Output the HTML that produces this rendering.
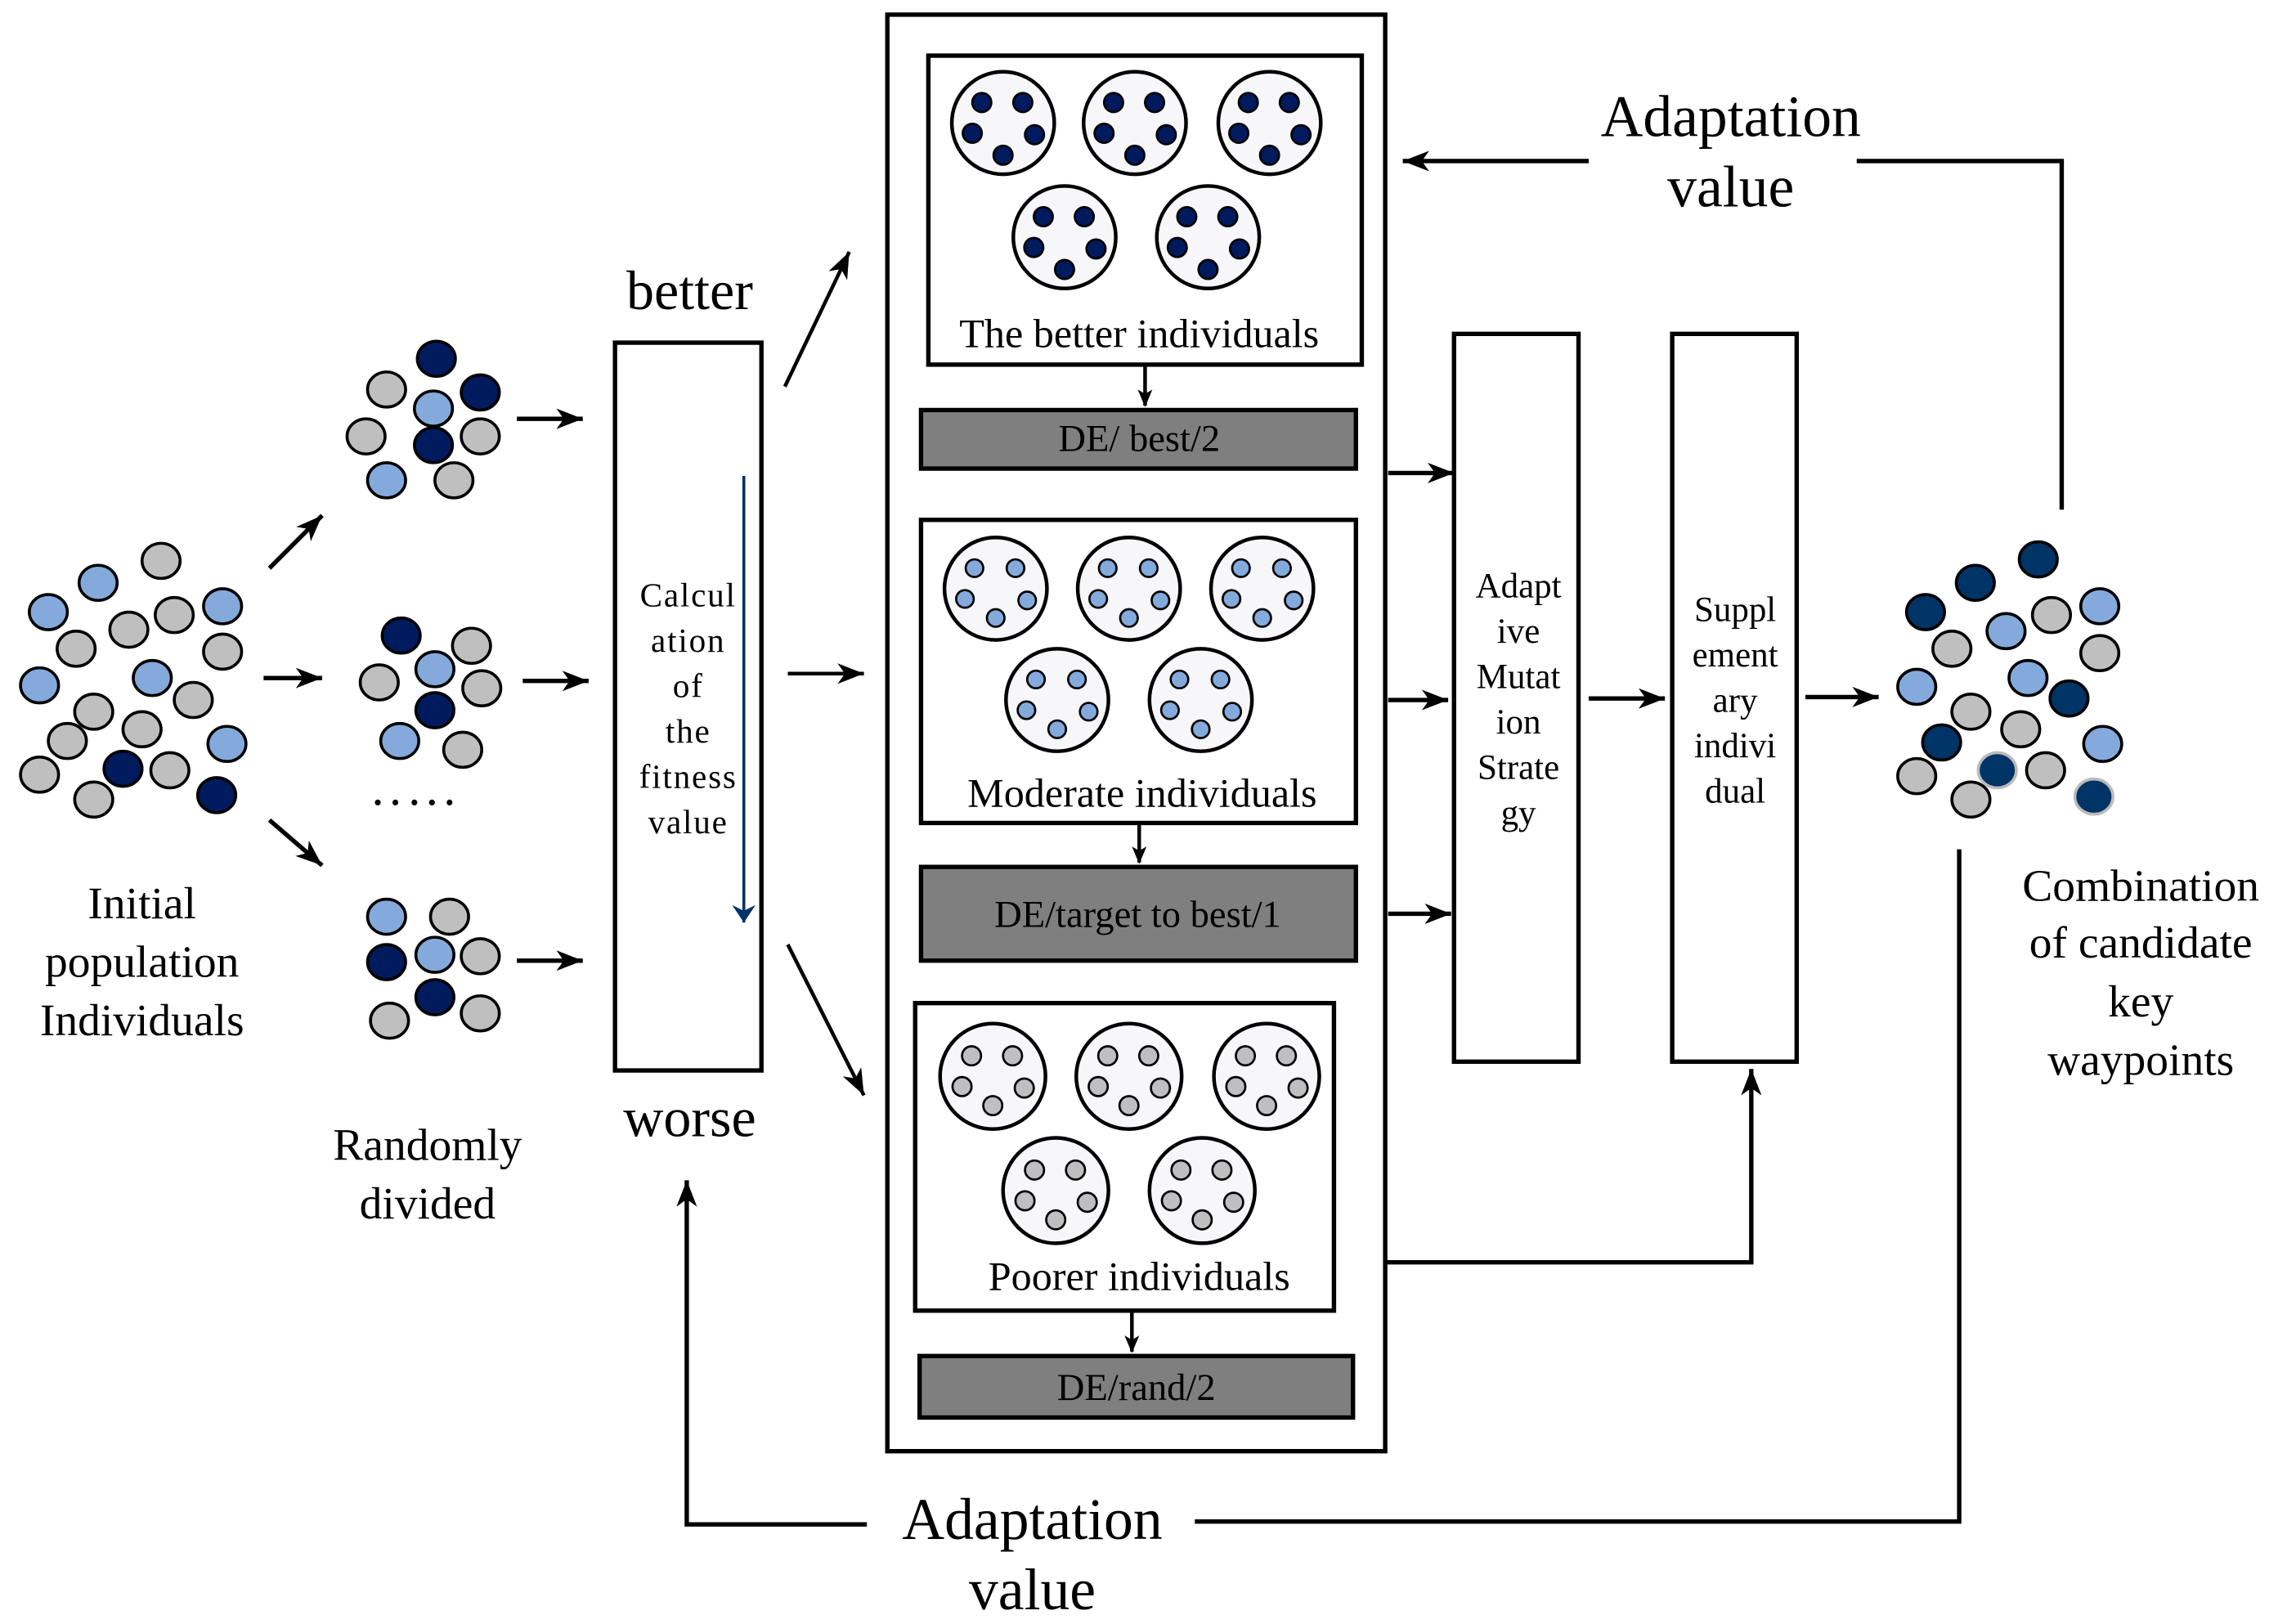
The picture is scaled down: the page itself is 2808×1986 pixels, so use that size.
<!DOCTYPE html>
<html><head><meta charset="utf-8"><style>
html,body{margin:0;padding:0;background:#fff;}
svg{display:block;}
text{font-family:"Liberation Serif","Times New Roman",Times,serif;fill:#000;}
</style></head><body>
<svg width="2808" height="1986" viewBox="0 0 1568 1109" xmlns="http://www.w3.org/2000/svg" font-family="Liberation Serif, Times New Roman, serif">
<defs>
<marker id="ah" markerWidth="12" markerHeight="10" refX="11" refY="5" orient="auto" markerUnits="userSpaceOnUse">
<path d="M0,0 L12,5 L0,10 L3,5 z" fill="#000"/></marker>
<marker id="ah2" markerWidth="20" markerHeight="14" refX="18" refY="7" orient="auto" markerUnits="userSpaceOnUse">
<path d="M0,0 L18,7 L0,14 L5,7 z" fill="#000"/></marker>
<marker id="ahb" markerWidth="14" markerHeight="18" refX="12" refY="8" orient="auto" markerUnits="userSpaceOnUse">
<path d="M0,0 L12,8 L0,16 L4,8 z" fill="#003366"/></marker>
</defs>
<g stroke="#000" stroke-width="2">
<ellipse cx="110" cy="383" rx="13" ry="12" fill="#bfbfbf"/>
<ellipse cx="67" cy="398" rx="13" ry="12" fill="#84aadc"/>
<ellipse cx="33" cy="418" rx="13" ry="12" fill="#84aadc"/>
<ellipse cx="152" cy="414" rx="13" ry="12" fill="#84aadc"/>
<ellipse cx="119" cy="420" rx="13" ry="12" fill="#bfbfbf"/>
<ellipse cx="88" cy="430" rx="13" ry="12" fill="#bfbfbf"/>
<ellipse cx="52" cy="443" rx="13" ry="12" fill="#bfbfbf"/>
<ellipse cx="152" cy="445" rx="13" ry="12" fill="#bfbfbf"/>
<ellipse cx="27" cy="468" rx="13" ry="12" fill="#84aadc"/>
<ellipse cx="104" cy="463" rx="13" ry="12" fill="#84aadc"/>
<ellipse cx="132" cy="478" rx="13" ry="12" fill="#bfbfbf"/>
<ellipse cx="64" cy="486" rx="13" ry="12" fill="#bfbfbf"/>
<ellipse cx="97" cy="498" rx="13" ry="12" fill="#bfbfbf"/>
<ellipse cx="46" cy="506" rx="13" ry="12" fill="#bfbfbf"/>
<ellipse cx="155" cy="508" rx="13" ry="12" fill="#84aadc"/>
<ellipse cx="84" cy="525" rx="13" ry="12" fill="#001a5e"/>
<ellipse cx="116" cy="526" rx="13" ry="12" fill="#bfbfbf"/>
<ellipse cx="27" cy="529" rx="13" ry="12" fill="#bfbfbf"/>
<ellipse cx="64" cy="546" rx="13" ry="12" fill="#bfbfbf"/>
<ellipse cx="148" cy="543" rx="13" ry="12" fill="#001a5e"/>
<ellipse cx="298" cy="245" rx="13" ry="12" fill="#001a5e"/>
<ellipse cx="264" cy="266" rx="13" ry="12" fill="#bfbfbf"/>
<ellipse cx="328" cy="268" rx="13" ry="12" fill="#001a5e"/>
<ellipse cx="296" cy="279" rx="13" ry="12" fill="#84aadc"/>
<ellipse cx="250" cy="298" rx="13" ry="12" fill="#bfbfbf"/>
<ellipse cx="296" cy="304" rx="13" ry="12" fill="#001a5e"/>
<ellipse cx="328" cy="298" rx="13" ry="12" fill="#bfbfbf"/>
<ellipse cx="264" cy="328" rx="13" ry="12" fill="#84aadc"/>
<ellipse cx="310" cy="328" rx="13" ry="12" fill="#bfbfbf"/>
<ellipse cx="274" cy="434" rx="13" ry="12" fill="#001a5e"/>
<ellipse cx="322" cy="441" rx="13" ry="12" fill="#bfbfbf"/>
<ellipse cx="259" cy="466" rx="13" ry="12" fill="#bfbfbf"/>
<ellipse cx="297" cy="457" rx="13" ry="12" fill="#84aadc"/>
<ellipse cx="329" cy="470" rx="13" ry="12" fill="#bfbfbf"/>
<ellipse cx="297" cy="485" rx="13" ry="12" fill="#001a5e"/>
<ellipse cx="273" cy="506" rx="13" ry="12" fill="#84aadc"/>
<ellipse cx="316" cy="512" rx="13" ry="12" fill="#bfbfbf"/>
<ellipse cx="264" cy="626" rx="13" ry="12" fill="#84aadc"/>
<ellipse cx="307" cy="626" rx="13" ry="12" fill="#bfbfbf"/>
<ellipse cx="264" cy="657" rx="13" ry="12" fill="#001a5e"/>
<ellipse cx="297" cy="652" rx="13" ry="12" fill="#84aadc"/>
<ellipse cx="328" cy="653" rx="13" ry="12" fill="#bfbfbf"/>
<ellipse cx="297" cy="681" rx="13" ry="12" fill="#001a5e"/>
<ellipse cx="266" cy="697" rx="13" ry="12" fill="#bfbfbf"/>
<ellipse cx="328" cy="692" rx="13" ry="12" fill="#bfbfbf"/>
<ellipse cx="1349" cy="398" rx="13" ry="12" fill="#003366"/>
<ellipse cx="1392" cy="382" rx="13" ry="12" fill="#003366"/>
<ellipse cx="1315" cy="418" rx="13" ry="12" fill="#003366"/>
<ellipse cx="1370" cy="431" rx="13" ry="12" fill="#84aadc"/>
<ellipse cx="1401" cy="420" rx="13" ry="12" fill="#bfbfbf"/>
<ellipse cx="1434" cy="414" rx="13" ry="12" fill="#84aadc"/>
<ellipse cx="1333" cy="443" rx="13" ry="12" fill="#bfbfbf"/>
<ellipse cx="1434" cy="446" rx="13" ry="12" fill="#bfbfbf"/>
<ellipse cx="1385" cy="463" rx="13" ry="12" fill="#84aadc"/>
<ellipse cx="1309" cy="469" rx="13" ry="12" fill="#84aadc"/>
<ellipse cx="1413" cy="477" rx="13" ry="12" fill="#003366"/>
<ellipse cx="1346" cy="486" rx="13" ry="12" fill="#bfbfbf"/>
<ellipse cx="1380" cy="498" rx="13" ry="12" fill="#bfbfbf"/>
<ellipse cx="1326" cy="507" rx="13" ry="12" fill="#003366"/>
<ellipse cx="1436" cy="508" rx="13" ry="12" fill="#84aadc"/>
<ellipse cx="1364" cy="526" rx="13" ry="12" fill="#003366" stroke="#bbb"/>
<ellipse cx="1397" cy="526" rx="13" ry="12" fill="#bfbfbf"/>
<ellipse cx="1309" cy="530" rx="13" ry="12" fill="#bfbfbf"/>
<ellipse cx="1346" cy="546" rx="13" ry="12" fill="#bfbfbf"/>
<ellipse cx="1430" cy="544" rx="13" ry="12" fill="#003366" stroke="#bbb"/>
</g>
<g fill="#000"><circle cx="258" cy="548" r="2"/><circle cx="270" cy="548" r="2"/><circle cx="283" cy="548" r="2"/><circle cx="295" cy="548" r="2"/><circle cx="307" cy="548" r="2"/></g>

<g stroke="#000" stroke-width="3" fill="none">
<line x1="184" y1="388" x2="220" y2="352" marker-end="url(#ah2)"/>
<line x1="180" y1="463" x2="220" y2="463" marker-end="url(#ah2)"/>
<line x1="184" y1="560" x2="220" y2="591" marker-end="url(#ah2)"/>
<line x1="353" y1="286" x2="398" y2="286" marker-end="url(#ah2)"/>
<line x1="357" y1="465" x2="402" y2="465" marker-end="url(#ah2)"/>
<line x1="353" y1="656" x2="398" y2="656" marker-end="url(#ah2)"/>
</g>
<g stroke="#000" stroke-width="2.5" fill="none">
<line x1="536" y1="264" x2="580" y2="172" marker-end="url(#ah2)"/>
<line x1="538" y1="460" x2="590" y2="460" marker-end="url(#ah2)"/>
<line x1="538" y1="645" x2="590" y2="748" marker-end="url(#ah2)"/>
</g>

<rect x="420" y="234" width="100" height="497" fill="#fff" stroke="#000" stroke-width="3"/>
<line x1="508" y1="325" x2="508" y2="630" stroke="#003366" stroke-width="2" marker-end="url(#ahb)"/>
<g font-size="23" text-anchor="middle" letter-spacing="1">
<text x="470" y="414">Calcul</text><text x="470" y="445">ation</text><text x="470" y="476">of</text><text x="470" y="507">the</text><text x="470" y="538">fitness</text><text x="470" y="569">value</text>
</g>
<text x="471" y="211" font-size="38" text-anchor="middle">better</text>
<text x="471" y="776" font-size="38" text-anchor="middle">worse</text>
<g font-size="31" text-anchor="middle">
<text x="97" y="627">Initial</text><text x="97" y="667">population</text><text x="97" y="707">Individuals</text>
<text x="292" y="792">Randomly</text><text x="292" y="832">divided</text>
<text x="1462" y="615">Combination</text><text x="1462" y="654">of candidate</text><text x="1462" y="694">key</text><text x="1462" y="734">waypoints</text>
</g>

<rect x="606" y="10" width="340" height="981" fill="none" stroke="#000" stroke-width="3"/>
<rect x="634" y="38" width="296" height="211" fill="#fff" stroke="#000" stroke-width="3"/>
<rect x="629" y="280" width="297" height="40" fill="#7f7f7f" stroke="#000" stroke-width="3"/>
<rect x="629" y="355" width="297" height="207" fill="#fff" stroke="#000" stroke-width="3"/>
<rect x="629" y="592" width="297" height="64" fill="#7f7f7f" stroke="#000" stroke-width="3"/>
<rect x="625" y="685" width="286" height="210" fill="#fff" stroke="#000" stroke-width="3"/>
<rect x="628" y="926" width="296" height="42" fill="#7f7f7f" stroke="#000" stroke-width="3"/>

<g font-size="28" text-anchor="middle">
<text x="778" y="237">The better individuals</text>
<text x="780" y="551">Moderate individuals</text>
<text x="778" y="881">Poorer individuals</text>
<text x="778" y="308" font-size="26">DE/ best/2</text>
<text x="777" y="633" font-size="26">DE/target to best/1</text>
<text x="776" y="956" font-size="26">DE/rand/2</text>
</g>
<g stroke="#000" stroke-width="2.5">
<line x1="782" y1="250" x2="782" y2="277" marker-end="url(#ah)"/>
<line x1="778" y1="563" x2="778" y2="589" marker-end="url(#ah)"/>
<line x1="773" y1="896" x2="773" y2="923" marker-end="url(#ah)"/>
</g>

<g fill="#001a5e" stroke="#000" stroke-width="1.5">
<g transform="translate(685,84)"><circle r="35" fill="#f7f7f9" stroke-width="2.5"/><circle cx="-14.5" cy="-14" r="6.5"/><circle cx="13.5" cy="-14" r="6.5"/><circle cx="-21" cy="7" r="6.5"/><circle cx="21.5" cy="8" r="6.5"/><circle cx="0" cy="22" r="6.5"/></g>
<g transform="translate(775,84)"><circle r="35" fill="#f7f7f9" stroke-width="2.5"/><circle cx="-14.5" cy="-14" r="6.5"/><circle cx="13.5" cy="-14" r="6.5"/><circle cx="-21" cy="7" r="6.5"/><circle cx="21.5" cy="8" r="6.5"/><circle cx="0" cy="22" r="6.5"/></g>
<g transform="translate(867,84)"><circle r="35" fill="#f7f7f9" stroke-width="2.5"/><circle cx="-14.5" cy="-14" r="6.5"/><circle cx="13.5" cy="-14" r="6.5"/><circle cx="-21" cy="7" r="6.5"/><circle cx="21.5" cy="8" r="6.5"/><circle cx="0" cy="22" r="6.5"/></g>
<g transform="translate(727,162)"><circle r="35" fill="#f7f7f9" stroke-width="2.5"/><circle cx="-14.5" cy="-14" r="6.5"/><circle cx="13.5" cy="-14" r="6.5"/><circle cx="-21" cy="7" r="6.5"/><circle cx="21.5" cy="8" r="6.5"/><circle cx="0" cy="22" r="6.5"/></g>
<g transform="translate(825,162)"><circle r="35" fill="#f7f7f9" stroke-width="2.5"/><circle cx="-14.5" cy="-14" r="6.5"/><circle cx="13.5" cy="-14" r="6.5"/><circle cx="-21" cy="7" r="6.5"/><circle cx="21.5" cy="8" r="6.5"/><circle cx="0" cy="22" r="6.5"/></g>
</g>
<g fill="#84aadc" stroke="#000" stroke-width="1.5">
<g transform="translate(680,402)"><circle r="35" fill="#f7f7f9" stroke-width="2.5"/><circle cx="-14.5" cy="-14" r="6"/><circle cx="13.5" cy="-14" r="6"/><circle cx="-21" cy="7" r="6"/><circle cx="21.5" cy="8" r="6"/><circle cx="0" cy="20" r="6"/></g>
<g transform="translate(771,402)"><circle r="35" fill="#f7f7f9" stroke-width="2.5"/><circle cx="-14.5" cy="-14" r="6"/><circle cx="13.5" cy="-14" r="6"/><circle cx="-21" cy="7" r="6"/><circle cx="21.5" cy="8" r="6"/><circle cx="0" cy="20" r="6"/></g>
<g transform="translate(862,402)"><circle r="35" fill="#f7f7f9" stroke-width="2.5"/><circle cx="-14.5" cy="-14" r="6"/><circle cx="13.5" cy="-14" r="6"/><circle cx="-21" cy="7" r="6"/><circle cx="21.5" cy="8" r="6"/><circle cx="0" cy="20" r="6"/></g>
<g transform="translate(722,478)"><circle r="35" fill="#f7f7f9" stroke-width="2.5"/><circle cx="-14.5" cy="-14" r="6"/><circle cx="13.5" cy="-14" r="6"/><circle cx="-21" cy="7" r="6"/><circle cx="21.5" cy="8" r="6"/><circle cx="0" cy="20" r="6"/></g>
<g transform="translate(820,478)"><circle r="35" fill="#f7f7f9" stroke-width="2.5"/><circle cx="-14.5" cy="-14" r="6"/><circle cx="13.5" cy="-14" r="6"/><circle cx="-21" cy="7" r="6"/><circle cx="21.5" cy="8" r="6"/><circle cx="0" cy="20" r="6"/></g>
</g>
<g fill="#bfbfbf" stroke="#000" stroke-width="1.5">
<g transform="translate(678,735)"><circle r="36" fill="#f7f7f9" stroke-width="2.5"/><circle cx="-14.5" cy="-14" r="6.5"/><circle cx="13.5" cy="-14" r="6.5"/><circle cx="-21" cy="7" r="6.5"/><circle cx="21.5" cy="8" r="6.5"/><circle cx="0" cy="20" r="6.5"/></g>
<g transform="translate(771,735)"><circle r="36" fill="#f7f7f9" stroke-width="2.5"/><circle cx="-14.5" cy="-14" r="6.5"/><circle cx="13.5" cy="-14" r="6.5"/><circle cx="-21" cy="7" r="6.5"/><circle cx="21.5" cy="8" r="6.5"/><circle cx="0" cy="20" r="6.5"/></g>
<g transform="translate(865,735)"><circle r="36" fill="#f7f7f9" stroke-width="2.5"/><circle cx="-14.5" cy="-14" r="6.5"/><circle cx="13.5" cy="-14" r="6.5"/><circle cx="-21" cy="7" r="6.5"/><circle cx="21.5" cy="8" r="6.5"/><circle cx="0" cy="20" r="6.5"/></g>
<g transform="translate(721,813)"><circle r="36" fill="#f7f7f9" stroke-width="2.5"/><circle cx="-14.5" cy="-14" r="6.5"/><circle cx="13.5" cy="-14" r="6.5"/><circle cx="-21" cy="7" r="6.5"/><circle cx="21.5" cy="8" r="6.5"/><circle cx="0" cy="20" r="6.5"/></g>
<g transform="translate(821,813)"><circle r="36" fill="#f7f7f9" stroke-width="2.5"/><circle cx="-14.5" cy="-14" r="6.5"/><circle cx="13.5" cy="-14" r="6.5"/><circle cx="-21" cy="7" r="6.5"/><circle cx="21.5" cy="8" r="6.5"/><circle cx="0" cy="20" r="6.5"/></g>
</g>

<rect x="993" y="228" width="85" height="497" fill="#fff" stroke="#000" stroke-width="3"/>
<rect x="1142" y="228" width="85" height="497" fill="#fff" stroke="#000" stroke-width="3"/>
<g font-size="24" text-anchor="middle">
<text x="1037" y="408">Adapt</text><text x="1037" y="439">ive</text><text x="1037" y="470">Mutat</text><text x="1037" y="501">ion</text><text x="1037" y="532">Strate</text><text x="1037" y="563">gy</text>
<text x="1185" y="424">Suppl</text><text x="1185" y="455">ement</text><text x="1185" y="486">ary</text><text x="1185" y="517">indivi</text><text x="1185" y="548">dual</text>
</g>
<g stroke="#000" stroke-width="3" fill="none">
<line x1="948" y1="323" x2="993" y2="323" marker-end="url(#ah2)"/>
<line x1="948" y1="478" x2="989" y2="478" marker-end="url(#ah2)"/>
<line x1="948" y1="624" x2="991" y2="624" marker-end="url(#ah2)"/>
<line x1="1085" y1="477" x2="1137" y2="477" marker-end="url(#ah2)"/>
<line x1="1233" y1="476" x2="1283" y2="476" marker-end="url(#ah2)"/>
<polyline points="946,862 1196,862 1196,730" marker-end="url(#ah2)"/>
<polyline points="1408,348 1408,110 1268,110"/>
<line x1="1085" y1="110" x2="958" y2="110" marker-end="url(#ah2)"/>
<polyline points="1338,580 1338,1039 816,1039"/>
<polyline points="592,1041 469,1041 469,806" marker-end="url(#ah2)"/>
</g>
<g font-size="40" text-anchor="middle">
<text x="1182" y="93">Adaptation</text><text x="1182" y="141">value</text>
<text x="705" y="1051">Adaptation</text><text x="705" y="1099">value</text>
</g>
</svg>
</body></html>
